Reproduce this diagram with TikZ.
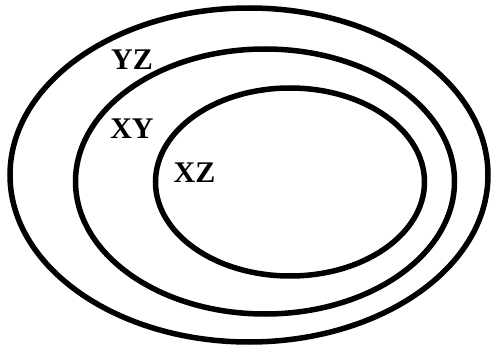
\documentclass[tikz,border=0pt]{standalone}
\usepackage{fontspec}
\setmainfont{Liberation Serif}
\begin{document}
\begin{tikzpicture}[x=1pt,y=1pt,
  ring/.style={draw=black,line width=5.5pt},
  lbl/.style={font=\fontsize{30}{30}\selectfont\bfseries,inner sep=0pt}]
\useasboundingbox (0,0) rectangle (491,349);
\draw[ring] (249,174) ellipse [x radius=239, y radius=167];
\draw[ring] (265,167.5) ellipse [x radius=189.5, y radius=132.5];
\draw[ring] (290,167) ellipse [x radius=134.5, y radius=94];
\node[lbl] (yz) at (132,289) {YZ};
\node[lbl] (xy) at (132,220.5) {XY};
\node[lbl] (xz) at (194.5,176.5) {XZ};
\end{tikzpicture}
\end{document}
